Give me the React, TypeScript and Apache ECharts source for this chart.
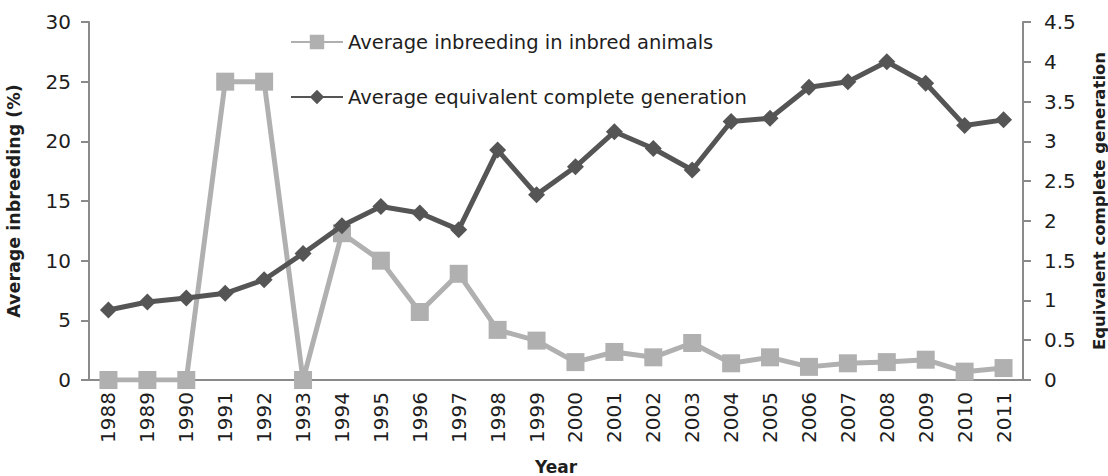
import React, { useEffect, useRef } from "react";
import * as echarts from "echarts";

const years = ["1988","1989","1990","1991","1992","1993","1994","1995","1996","1997","1998","1999","2000","2001","2002","2003","2004","2005","2006","2007","2008","2009","2010","2011"];
const inbreeding = [0, 0, 0, 25, 25, 0, 12.3, 10, 5.7, 8.9, 4.2, 3.3, 1.5, 2.35, 1.9, 3.1, 1.4, 1.9, 1.1, 1.4, 1.5, 1.7, 0.7, 1.0];
const generation = [0.88, 0.98, 1.03, 1.09, 1.26, 1.59, 1.94, 2.18, 2.1, 1.89, 2.89, 2.33, 2.68, 3.12, 2.91, 2.64, 3.25, 3.29, 3.68, 3.75, 4.0, 3.73, 3.2, 3.27];

const FONT = "'DejaVu Sans', sans-serif";
const AXIS = "#8a8a8a";
const LIGHT = "#b0b0b0";
const DARK = "#555555";
const TXT = "#1e1e1e";

export default function App() {
  const ref = useRef<HTMLDivElement>(null);
  useEffect(() => {
    if (!ref.current) return;
    const chart = echarts.init(ref.current, undefined, { renderer: "svg" });
    chart.setOption({
      animation: false,
      textStyle: { fontFamily: FONT },
      grid: { left: 89, right: 85, top: 22, bottom: 96, outerBoundsMode: "none" },
      legend: {
        orient: "vertical",
        left: 290,
        top: 32,
        padding: 0,
        itemGap: 35,
        itemWidth: 52,
        itemHeight: 18,
        textStyle: { fontFamily: FONT, fontSize: 19.5, color: TXT },
        data: ["Average inbreeding in inbred animals", "Average equivalent complete generation"],
      },
      xAxis: {
        type: "category",
        data: years,
        name: "Year",
        nameLocation: "middle",
        nameGap: 78,
        nameTextStyle: { fontFamily: FONT, fontSize: 17, fontWeight: "bold", color: TXT },
        axisLine: { lineStyle: { color: AXIS, width: 2 } },
        axisTick: { show: false },
        axisLabel: { rotate: 90, fontSize: 20, color: TXT, margin: 12, fontFamily: FONT },
      },
      yAxis: [
        {
          type: "value",
          min: 0,
          max: 30,
          interval: 5,
          name: "Average inbreeding (%)",
          nameLocation: "middle",
          nameRotate: 90,
          nameGap: 66,
          nameTextStyle: { fontFamily: FONT, fontSize: 17.5, fontWeight: "bold", color: TXT },
          axisLine: { show: true, lineStyle: { color: AXIS, width: 2 } },
          axisTick: { show: true, length: 8, lineStyle: { color: AXIS, width: 2 } },
          axisLabel: { fontSize: 20, color: TXT, margin: 18, fontFamily: FONT },
          splitLine: { show: false },
        },
        {
          type: "value",
          min: 0,
          max: 4.5,
          interval: 0.5,
          name: "Equivalent complete generation",
          nameLocation: "middle",
          nameRotate: 90,
          nameGap: 68,
          nameTextStyle: { fontFamily: FONT, fontSize: 16.5, fontWeight: "bold", color: TXT },
          axisLine: { show: true, lineStyle: { color: AXIS, width: 2 } },
          axisTick: { show: true, length: 8, lineStyle: { color: AXIS, width: 2 } },
          axisLabel: { fontSize: 20, color: TXT, margin: 21, fontFamily: FONT },
          splitLine: { show: false },
        },
      ],
      series: [
        {
          name: "Average inbreeding in inbred animals",
          type: "line",
          yAxisIndex: 0,
          data: inbreeding,
          symbol: "rect",
          symbolSize: 18,
          lineStyle: { color: LIGHT, width: 5 },
          itemStyle: { color: LIGHT },
          z: 2,
        },
        {
          name: "Average equivalent complete generation",
          type: "line",
          yAxisIndex: 1,
          data: generation,
          symbol: "diamond",
          symbolSize: 17,
          lineStyle: { color: DARK, width: 5 },
          itemStyle: { color: DARK },
          z: 3,
        },
      ],
    });
    return () => chart.dispose();
  }, []);
  return <div ref={ref} style={{ width: 1108, height: 476, position: "absolute", left: 0, top: 0 }} />;
}
